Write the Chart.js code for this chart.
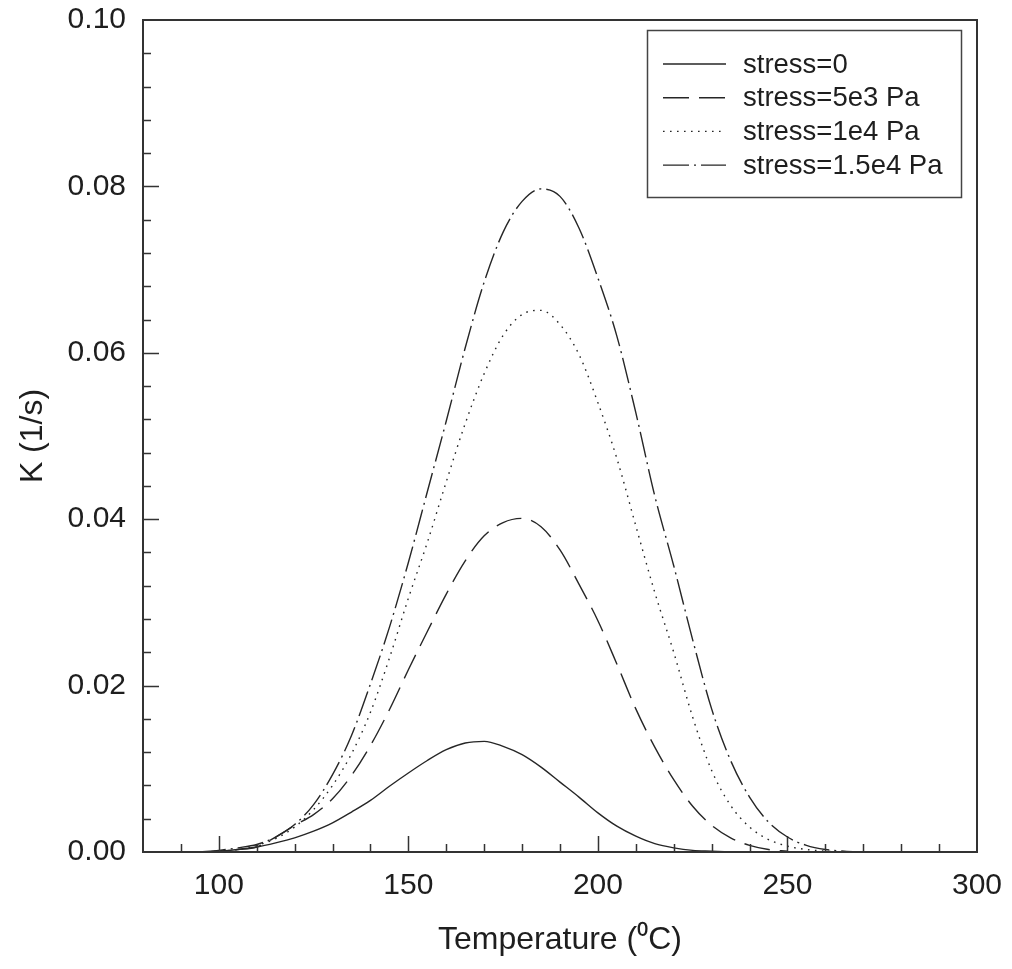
<!DOCTYPE html>
<html><head><meta charset="utf-8">
<script src="https://cdn.jsdelivr.net/npm/chart.js@4.4.1/dist/chart.umd.min.js"></script>
<style>html,body{margin:0;padding:0;background:#fff;}#wrap{width:1012px;height:969px;}</style>
</head><body><div id="wrap"><canvas id="c" width="1012" height="969"></canvas></div>
<script>
// Temperature grid (°C)
const temperatures = [95,100,105,110,115,120,125,130,135,140,145,150,155,160,165,170,175,180,185,190,195,200,205,210,215,220,225,230,235,240,245,250,255,260,265,270];
// K (1/s) for each stress level (null = curve not drawn there)
const kStress0     = [0,0.0001,0.0003,0.0006,0.0011,0.0017,0.0025,0.0035,0.0048,0.0062,0.0079,0.0095,0.0110,0.0123,0.0131,0.0133,0.0127,0.0117,0.0102,0.0084,0.0066,0.0047,0.0031,0.0019,0.0010,0.0005,0.0002,0.0001,0,null,null,null,null,null,null,null];
const kStress5e3   = [0,0.0001,0.0003,0.0006,0.0018,0.0032,0.0045,0.0064,0.0092,0.0128,0.0171,0.0219,0.0265,0.0310,0.0350,0.0380,0.0396,0.0401,0.0391,0.0363,0.0322,0.0278,0.0226,0.0172,0.0126,0.0087,0.0055,0.0032,0.0017,0.0008,0.0003,0.0001,null,null,null,null];
const kStress1e4   = [0,0.0001,0.0003,0.0008,0.0016,0.0030,0.0051,0.0080,0.0118,0.0168,0.0233,0.0305,0.0372,0.0445,0.0515,0.0575,0.0621,0.0646,0.0651,0.0634,0.0598,0.0540,0.0473,0.0392,0.0312,0.0240,0.0162,0.0098,0.0056,0.0030,0.0015,0.0007,0.0003,0.0001,0,null];
const kStress15e3  = [0,0.0002,0.0005,0.0009,0.0018,0.0033,0.0057,0.0093,0.0140,0.0202,0.0270,0.0348,0.0433,0.0518,0.0606,0.0685,0.0745,0.0782,0.0797,0.0788,0.0750,0.0690,0.0620,0.0528,0.0428,0.0344,0.0255,0.0172,0.0110,0.0066,0.0036,0.0018,0.0008,0.0003,0.0001,0];
const seriesLabels = ['stress=0','stress=5e3 Pa','stress=1e4 Pa','stress=1.5e4 Pa'];
const xTickValues = [100,150,200,250,300];
const yTickValues = [0,0.02,0.04,0.06,0.08,0.10];

const dashes = [[], [26,10], [1.6,5.4], [26,5,2,5]];
const lineColor = '#262626';
const FONT = '"Liberation Sans", Arial, sans-serif';

function toPoints(arr){
  const pts = [];
  arr.forEach((v,i)=>{ if(v!==null) pts.push({x:temperatures[i], y:v}); });
  return pts;
}
const allSeries = [kStress0,kStress5e3,kStress1e4,kStress15e3];

const framePlugin = {
  id:'frame',
  afterDatasetsDraw(chart){
    const {ctx, chartArea:{left,right,top,bottom}, scales:{x,y}} = chart;
    ctx.save();
    ctx.strokeStyle = '#333';
    ctx.lineWidth = 2;
    ctx.strokeRect(left, top, right-left, bottom-top);
    ctx.lineWidth = 1.5;
    ctx.beginPath();
    for(let v=90; v<300; v+=10){
      const px = Math.round(x.getPixelForValue(v))+0.5;
      const len = (v%50===0)?16:8;
      ctx.moveTo(px,bottom); ctx.lineTo(px,bottom-len);
    }
    for(let i=1;i<25;i++){
      const py = Math.round(y.getPixelForValue(i*0.004))+0.5;
      const len = (i%5===0)?16:8;
      ctx.moveTo(left,py); ctx.lineTo(left+len,py);
    }
    ctx.stroke();
    // legend box
    const bx = right-330, by = top+10, bw = 314, bh = 167;
    ctx.fillStyle='#fff';
    ctx.fillRect(bx,by,bw,bh);
    ctx.lineWidth = 1.5;
    ctx.strokeStyle = '#444';
    ctx.strokeRect(bx+0.5,by+0.5,bw,bh);
    ctx.font = '27.5px '+FONT;
    ctx.textBaseline = 'middle';
    ctx.fillStyle = '#1e1e1e';
    chart.data.datasets.forEach((ds,i)=>{
      const ry = by + 34 + i*33.7;
      ctx.save();
      ctx.strokeStyle = lineColor;
      ctx.lineWidth = 1.4;
      ctx.setLineDash(ds.borderDash||[]);
      ctx.beginPath(); ctx.moveTo(bx+16, ry); ctx.lineTo(bx+79, ry); ctx.stroke();
      ctx.restore();
      ctx.fillText(ds.label, bx+96, ry+1);
    });
    ctx.restore();
  }
};

new Chart(document.getElementById('c'), {
  type:'line',
  data:{
    datasets: allSeries.map((arr,i)=>({
      label: seriesLabels[i],
      data: toPoints(arr),
      borderColor: lineColor,
      borderWidth: 1.4,
      borderDash: dashes[i],
      pointRadius: 0,
      fill: false,
      tension: 0.4,
      cubicInterpolationMode: 'monotone'
    }))
  },
  options:{
    responsive:false,
    animation:false,
    devicePixelRatio:1,
    layout:{padding:{left:0,right:35,top:20,bottom:0}},
    plugins:{legend:{display:false}, tooltip:{enabled:false}},
    scales:{
      x:{
        type:'linear', min:80, max:300,
        afterBuildTicks: s => { s.ticks = xTickValues.map(v=>({value:v})); },
        afterFit: s => { s.height = 117; s.paddingLeft = 0; s.paddingRight = 0; },
        grid:{display:false, drawTicks:false},
        border:{display:false},
        ticks:{font:{family:FONT,size:30}, color:'#1e1e1e', padding:16, maxRotation:0, autoSkip:false, callback:v=>String(v)},
        title:{display:true, text:'Temperature (\u2070C)', font:{family:FONT,size:32}, color:'#1e1e1e', padding:{top:0,bottom:10}}
      },
      y:{
        type:'linear', min:0, max:0.1,
        afterBuildTicks: s => { s.ticks = yTickValues.map(v=>({value:v})); },
        afterFit: s => { s.width = 143; s.paddingTop = 0; s.paddingBottom = 0; },
        grid:{display:false, drawTicks:false},
        border:{display:false},
        ticks:{font:{family:FONT,size:30}, color:'#1e1e1e', padding:17, autoSkip:false, callback:v=>v.toFixed(2)},
        title:{display:true, text:'K (1/s)', font:{family:FONT,size:32}, color:'#1e1e1e', padding:{top:14,bottom:0}}
      }
    }
  },
  plugins:[framePlugin]
});
</script>
</body></html>
